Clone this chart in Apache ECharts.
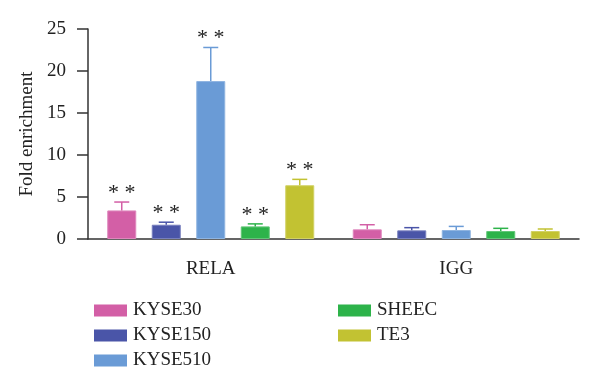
<!DOCTYPE html>
<html><head><meta charset="utf-8">
<script src="https://cdn.jsdelivr.net/npm/echarts@6/dist/echarts.min.js"></script>
<style>html,body{margin:0;padding:0;background:#fff}#c{width:600px;height:387px}</style>
</head><body><div id="c"></div>
<script>
var categories = ['RELA', 'IGG'];
var seriesNames = ['KYSE30', 'KYSE150', 'KYSE510', 'SHEEC', 'TE3'];
var colors = ['#d35fa6', '#4a55a8', '#6a9bd6', '#2db34a', '#c2c232'];
var KYSE30 = [3.4, 1.15];
var KYSE150 = [1.7, 1.03];
var KYSE510 = [18.8, 1.07];
var SHEEC = [1.5, 0.95];
var TE3 = [6.4, 0.95];
var KYSE30_err = [1.0, 0.55];
var KYSE150_err = [0.3, 0.32];
var KYSE510_err = [4.0, 0.43];
var SHEEC_err = [0.3, 0.32];
var TE3_err = [0.7, 0.24];
var signif = ['**', ''];
var yTicks = [0, 5, 10, 15, 20, 25];

var values = [KYSE30, KYSE150, KYSE510, SHEEC, TE3];
var errs = [KYSE30_err, KYSE150_err, KYSE510_err, SHEEC_err, TE3_err];
var font = '"Liberation Serif", "DejaVu Serif", serif';
var BW = 29, GAP = 15.5;

var series = [];
values.forEach(function (v, i) {
  series.push({
    name: seriesNames[i], type: 'bar', data: v, barWidth: BW,
    barGap: (GAP / BW * 100) + '%',
    itemStyle: { color: colors[i], borderColor: echarts.color.lift(colors[i], 0.25), borderWidth: 1 },
    z: 2
  });
});
values.forEach(function (v, i) {
  var data = v.map(function (val, k) { return [k, val, val + errs[i][k], signif[k]]; });
  series.push({
    type: 'custom', name: seriesNames[i] + ' err', data: data, z: 3, silent: true,
    renderItem: function (params, api) {
      var k = api.value(0);
      var c0 = api.coord([k, api.value(1)]);
      var c1 = api.coord([k, api.value(2)]);
      var off = (i - 2) * (BW + GAP);
      var x = c0[0] + off;
      var children = [
        { type: 'line', shape: { x1: x, y1: c0[1], x2: x, y2: c1[1] }, style: { stroke: colors[i], lineWidth: 1.5 } },
        { type: 'line', shape: { x1: x - 7.5, y1: c1[1], x2: x + 7.5, y2: c1[1] }, style: { stroke: colors[i], lineWidth: 1.5 } }
      ];
      var s = data[k][3];
      if (s) {
        children.push({ type: 'text', style: { text: '* *', x: x, y: c1[1] - 20, align: 'center', verticalAlign: 'top', fontSize: 22, fontFamily: font, fill: '#222' } });
      }
      return { type: 'group', children: children };
    },
    encode: { x: 0, y: [1, 2] }
  });
});

var legendCommon = { orient: 'vertical', top: 296, itemWidth: 33, itemHeight: 12, itemGap: 6, icon: 'rect',
  itemStyle: { borderWidth: 0 },
  textStyle: { fontFamily: font, fontSize: 19, color: '#222', padding: [0, 0, 0, 1] } };
var chart = echarts.init(document.getElementById('c'));
chart.setOption({
  animation: false,
  backgroundColor: '#fff',
  grid: { left: 88, right: 21, top: 29, bottom: 148 },
  legend: [
    Object.assign({ data: seriesNames.slice(0, 3), left: 89 }, legendCommon),
    Object.assign({ data: seriesNames.slice(3), left: 333 }, legendCommon)
  ],
  xAxis: {
    type: 'category', data: categories,
    axisLine: { lineStyle: { color: '#333', width: 1.5 } },
    axisTick: { alignWithLabel: true, length: 13, lineStyle: { color: '#333', width: 1.5 } },
    axisLabel: { fontFamily: font, fontSize: 19, color: '#222', margin: 21 }
  },
  yAxis: {
    type: 'value', min: yTicks[0], max: yTicks[yTicks.length - 1], interval: 5,
    name: 'Fold enrichment', nameLocation: 'middle', nameGap: 50,
    nameTextStyle: { fontFamily: font, fontSize: 19, color: '#222' },
    axisLine: { show: true, lineStyle: { color: '#333', width: 1.5 } },
    axisTick: { show: true, length: 11, lineStyle: { color: '#333', width: 1.5 } },
    splitLine: { show: false },
    axisLabel: { fontFamily: font, fontSize: 19, color: '#222', margin: 22 }
  },
  series: series
});
</script></body></html>
